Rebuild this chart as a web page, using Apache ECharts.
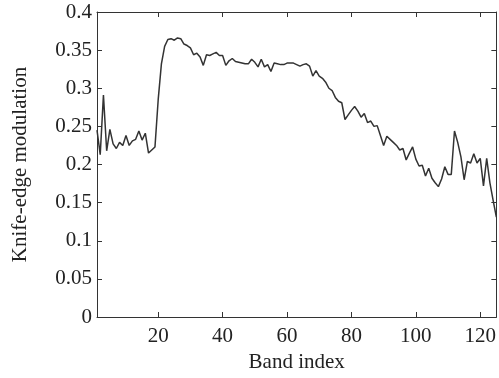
<!DOCTYPE html>
<html>
<head>
<meta charset="utf-8">
<script src="https://cdn.jsdelivr.net/npm/echarts@6/dist/echarts.min.js"></script>
<style>
  html, body { margin: 0; padding: 0; background: #fff; }
  #main { width: 499px; height: 378px; }
</style>
</head>
<body>
<div id="main"></div>
<script>
// band index 1..125
const bandStart = 1;
const modulation = [
  0.245, 0.213, 0.291, 0.218, 0.246, 0.227, 0.221, 0.229, 0.225, 0.238,
  0.225, 0.231, 0.233, 0.244, 0.232, 0.241, 0.215, 0.219, 0.223, 0.285,
  0.332, 0.355, 0.364, 0.365, 0.363, 0.366, 0.365, 0.358, 0.356, 0.353,
  0.344, 0.346, 0.341, 0.330, 0.344, 0.343, 0.345, 0.347, 0.343, 0.343,
  0.330, 0.336, 0.339, 0.335, 0.334, 0.333, 0.332, 0.332, 0.338, 0.334,
  0.328, 0.338, 0.328, 0.331, 0.322, 0.333, 0.332, 0.331, 0.331, 0.333,
  0.333, 0.333, 0.331, 0.329, 0.331, 0.332, 0.329, 0.316, 0.323, 0.316,
  0.313, 0.308, 0.300, 0.297, 0.288, 0.283, 0.281, 0.259, 0.265, 0.271,
  0.276, 0.270, 0.262, 0.267, 0.255, 0.257, 0.250, 0.251, 0.238, 0.225,
  0.237, 0.233, 0.229, 0.225, 0.219, 0.221, 0.206, 0.215, 0.223, 0.207,
  0.198, 0.199, 0.185, 0.195, 0.182, 0.176, 0.171, 0.181, 0.197, 0.187,
  0.187, 0.244, 0.229, 0.210, 0.180, 0.204, 0.202, 0.214, 0.202, 0.208,
  0.172, 0.208, 0.176, 0.153, 0.131
];
const xTicks = [20, 40, 60, 80, 100, 120];

const font = 'Liberation Serif';
const fontSize = 21;
const axisColor = '#333';
const textColor = '#222';

const points = modulation.map((v, i) => [bandStart + i, v]);

let chart = echarts.init(document.getElementById('main'));

const xBase = {
  type: 'value',
  min: 1,
  max: 125,
  axisLine: { show: true, onZero: false, lineStyle: { color: axisColor, width: 1 } },
  axisTick: { show: true, inside: true, length: 5, customValues: xTicks, lineStyle: { color: axisColor } },
  splitLine: { show: false }
};
const yBase = {
  type: 'value',
  min: 0,
  max: 0.4,
  interval: 0.05,
  axisLine: { show: true, onZero: false, lineStyle: { color: axisColor, width: 1 } },
  axisTick: { show: true, inside: true, length: 5, lineStyle: { color: axisColor } },
  splitLine: { show: false }
};

let option = {
  animation: false,
  backgroundColor: '#fff',
  grid: { left: 97, right: 2, top: 12, bottom: 54 },
  xAxis: [
    Object.assign({}, xBase, {
      position: 'bottom',
      name: 'Band index',
      nameLocation: 'middle',
      nameGap: 35,
      nameTextStyle: { fontFamily: font, fontSize: fontSize, color: textColor },
      axisLabel: { customValues: xTicks, margin: 9, fontFamily: font, fontSize: fontSize, color: textColor }
    }),
    Object.assign({}, xBase, {
      position: 'top',
      axisLabel: { show: false }
    })
  ],
  yAxis: [
    Object.assign({}, yBase, {
      position: 'left',
      name: 'Knife-edge modulation',
      nameLocation: 'middle',
      nameGap: 66,
      nameTextStyle: { fontFamily: font, fontSize: fontSize, color: textColor },
      axisLabel: { margin: 5, fontFamily: font, fontSize: fontSize, color: textColor,
        formatter: v => String(+v.toFixed(2)) }
    }),
    Object.assign({}, yBase, {
      position: 'right',
      axisLabel: { show: false }
    })
  ],
  series: [
    {
      type: 'line',
      data: points,
      showSymbol: false,
      lineStyle: { color: '#333', width: 1.5 },
      clip: true
    }
  ]
};
chart.setOption(option);
</script>
</body>
</html>
